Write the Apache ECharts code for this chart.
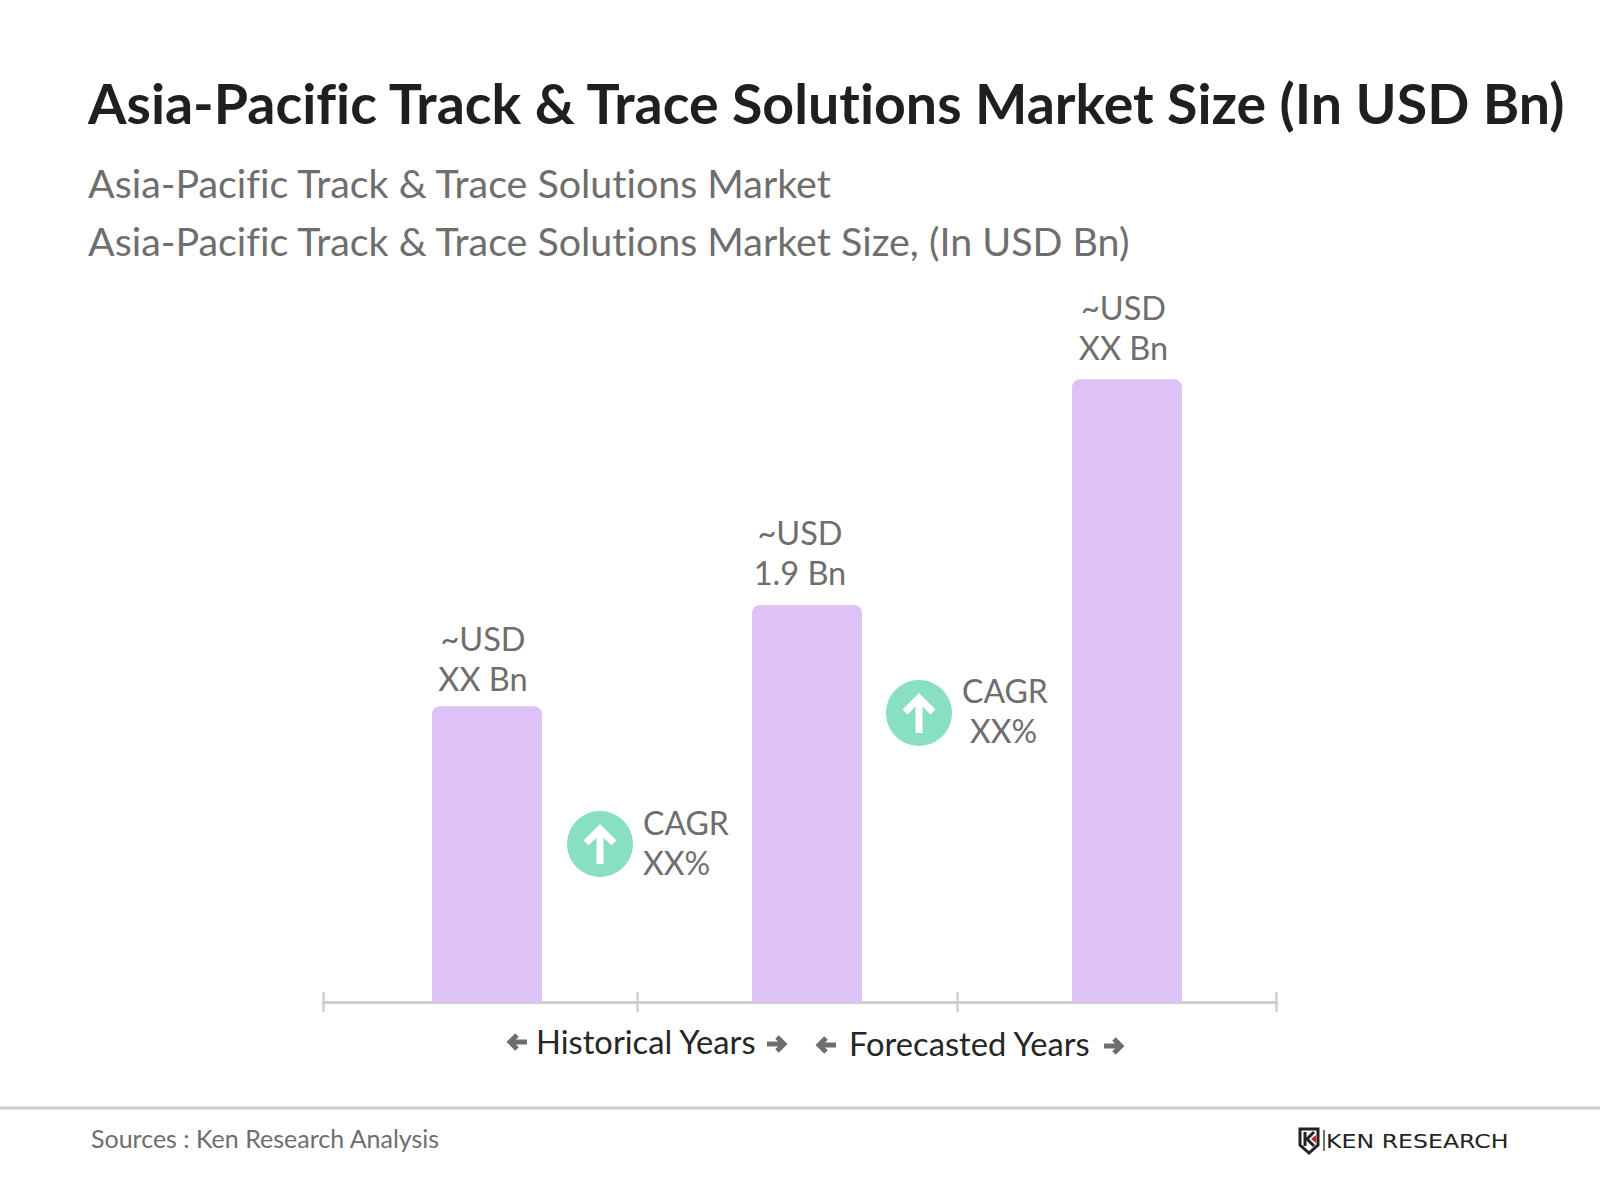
<!DOCTYPE html>
<html>
<head>
<meta charset="utf-8">
<style>html,body{margin:0;padding:0;background:#fff}#main{width:1600px;height:1200px}#main text{font-variant-ligatures:none}</style>
<script src="https://cdn.jsdelivr.net/npm/echarts@6/dist/echarts.min.js"></script>
</head>
<body>
<div id="main"></div>
<script>
const categories = ['Historical', 'Current', 'Forecast'];
const barValues = [1.415, 1.9, 2.98];
const barLabels = ['~USD\nXX Bn', '~USD\n1.9 Bn', '~USD\nXX Bn'];
const labelShift = [[-4, 2], [-7, -2.5], [-3.5, -2]];
const axisTicks = [0, 0.989, 1.995, 3];

const FONT = 'Lato, Carlito, "Noto Sans", sans-serif';
const GREY = '#6e6e6e';

function note(text, left, top, size, color, weight) {
  return {
    text: text, left: left, top: top, padding: 0,
    textStyle: { fontFamily: FONT, fontSize: size, color: color, fontWeight: weight || 'normal', lineHeight: size * 1.25 }
  };
}

function badge(cx, cy) {
  return {
    type: 'group', x: cx, y: cy,
    children: [
      { type: 'circle', shape: { r: 33 }, style: { fill: '#88dfc1' } },
      { type: 'polyline', shape: { points: [[0, 20], [0, -15]] }, style: { stroke: '#fff', lineWidth: 7, fill: null } },
      { type: 'polyline', shape: { points: [[-14, -1], [0, -15], [14, -1]] }, style: { stroke: '#fff', lineWidth: 7, fill: null } }
    ]
  };
}

function arrow(cx, cy, dir) {
  return {
    type: 'group', x: cx, y: cy, scaleX: dir,
    children: [
      { type: 'polyline', shape: { points: [[-9, 0], [7, 0]] }, style: { stroke: '#6e6e6e', lineWidth: 5, fill: null } },
      { type: 'polyline', shape: { points: [[1, -7], [8, 0], [1, 7]] }, style: { stroke: '#6e6e6e', lineWidth: 5, fill: null } }
    ]
  };
}

const chart = echarts.init(document.getElementById('main'), null, { renderer: 'svg' });
chart.setOption({
  backgroundColor: '#fff',
  animation: false,
  title: [
    note('Asia-Pacific Track & Trace Solutions Market Size (In USD Bn)', 88, 68, 55.46, '#1f1f1f', 'bold'),
    note('Asia-Pacific Track & Trace Solutions Market', 88, 158, 39.4, GREY),
    note('Asia-Pacific Track & Trace Solutions Market Size, (In USD Bn)', 88, 216, 39.4, GREY),
    note('CAGR', 643, 802.5, 32, GREY),
    note('XX%', 643, 842.5, 32, GREY),
    note('CAGR', 962, 670, 32, GREY),
    note('XX%', 970, 710, 32, GREY),
    note('Historical Years', 536, 1021, 32.7, '#262626'),
    note('Forecasted Years', 849, 1023, 32.7, '#262626'),
    note('Sources : Ken Research Analysis', 91, 1122, 25, GREY)
  ],
  grid: [
    { left: 327, width: 960, top: 375, height: 627 },
    { left: 323.5, width: 953, top: 992, height: 10 }
  ],
  xAxis: [
    { type: 'category', gridIndex: 0, data: categories, axisLine: { show: false }, axisTick: { show: false }, axisLabel: { show: false } },
    {
      type: 'value', gridIndex: 1, min: 0, max: 3,
      axisLine: { show: true, lineStyle: { color: '#cfcfcf', width: 3 } },
      axisTick: { show: true, length: 10, customValues: axisTicks, lineStyle: { color: '#cfcfcf', width: 2.5 } },
      axisLabel: { show: false, customValues: axisTicks },
      splitLine: { show: true, lineStyle: { color: '#cfcfcf', width: 2.5 } }
    }
  ],
  yAxis: [
    { type: 'value', gridIndex: 0, min: 0, max: 3, show: false, splitLine: { show: false } },
    { type: 'value', gridIndex: 1, min: 0, max: 1, show: false, splitLine: { show: false } }
  ],
  series: [{
    type: 'bar',
    xAxisIndex: 0,
    yAxisIndex: 0,
    barWidth: 110,
    z: 1,
    data: barValues.map((v, i) => ({
      value: v,
      label: {
        show: true, position: 'top', distance: 10,
        offset: labelShift[i],
        formatter: barLabels[i],
        fontFamily: FONT, fontSize: 32.5, lineHeight: 40, color: GREY
      }
    })),
    itemStyle: { color: '#ddc1f7', borderRadius: [8, 8, 0, 0] }
  }],
  graphic: [
    badge(600, 844),
    badge(919, 713),
    arrow(518, 1042, -1),
    arrow(776, 1044, 1),
    arrow(827, 1045, -1),
    arrow(1113, 1046, 1),
    { type: 'line', shape: { x1: 0, y1: 1108, x2: 1600, y2: 1108 }, style: { stroke: '#cccccc', lineWidth: 3 } },
    {
      type: 'group', x: 1300, y: 1129,
      children: [
        { type: 'polygon', shape: { points: [[0, 0], [18, 0], [18, 16], [9, 24], [0, 16]] }, style: { fill: '#fff', stroke: '#222', lineWidth: 3 } },
        { type: 'polyline', shape: { points: [[5, 3], [5, 17]] }, style: { stroke: '#222', lineWidth: 3, fill: null } },
        { type: 'polyline', shape: { points: [[14, 3], [7, 10], [14, 17]] }, style: { stroke: '#222', lineWidth: 3, fill: null } },
        { type: 'polygon', shape: { points: [[16, 6], [11, 10], [16, 14]] }, style: { fill: '#c8202c' } },
        { type: 'line', shape: { x1: 24, y1: 1, x2: 24, y2: 22 }, style: { stroke: '#444', lineWidth: 1.5 } }
      ]
    },
    {
      type: 'text', x: 1326, y: 1132, scaleX: 1.245,
      style: { text: 'KEN RESEARCH', fontFamily: '"DejaVu Sans", sans-serif', fontSize: 19, fill: '#222222' }
    }
  ]
});
</script>
</body>
</html>
